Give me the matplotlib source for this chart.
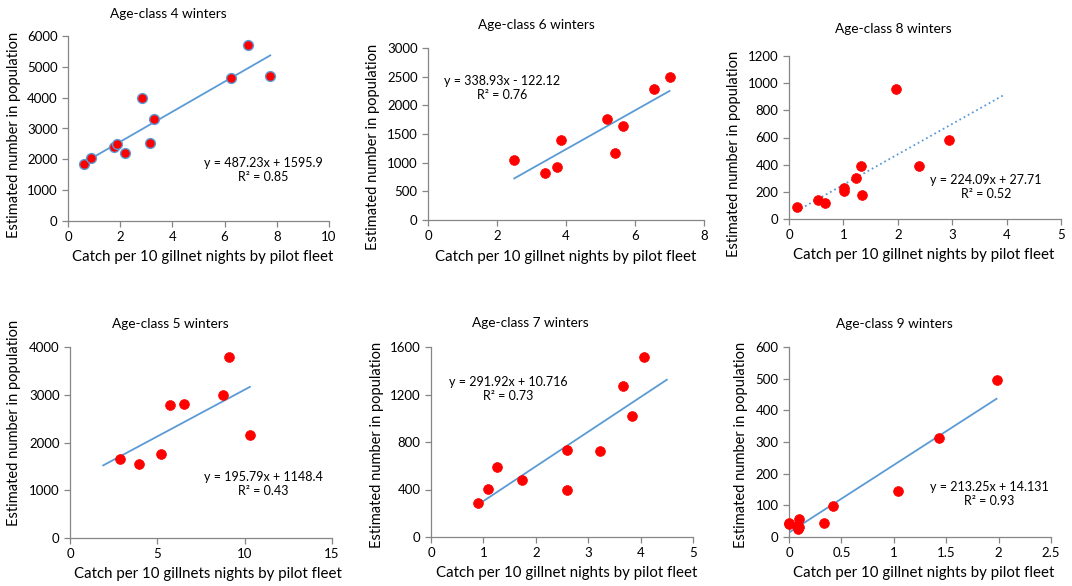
import numpy as np
import matplotlib
matplotlib.use("Agg")
import matplotlib.pyplot as plt

plt.rcParams['font.family'] = ['Lato', 'DejaVu Sans']

# --- data ---
x_age4 = [0.62, 0.9, 1.77, 1.87, 2.2, 2.85, 3.15, 3.3, 6.25, 6.9, 7.75]
y_age4 = [1850, 2050, 2390, 2510, 2200, 3980, 2530, 3310, 4640, 5700, 4700]

x_age6 = [2.5, 3.38, 3.75, 3.85, 5.2, 5.43, 5.64, 6.55, 7.0]
y_age6 = [1050, 820, 925, 1400, 1765, 1170, 1635, 2290, 2490]

x_age8 = [0.14, 0.53, 0.66, 1.01, 1.01, 1.24, 1.32, 1.34, 1.97, 2.39, 2.94]
y_age8 = [90, 138, 118, 225, 205, 300, 388, 180, 960, 393, 585]

x_age5 = [2.88, 3.95, 5.22, 5.74, 6.54, 8.77, 9.1, 10.3]
y_age5 = [1650, 1540, 1765, 2780, 2805, 2990, 3790, 2150]

x_age7 = [0.89, 1.08, 1.25, 1.73, 2.59, 2.6, 3.23, 3.66, 3.83, 4.07]
y_age7 = [283, 403, 588, 479, 730, 392, 728, 1275, 1017, 1515]

x_age9 = [0.0, 0.0, 0.08, 0.09, 0.1, 0.1, 0.33, 0.42, 1.04, 1.43, 1.98]
y_age9 = [45, 41, 35, 25, 57, 32, 43, 98, 144, 312, 495]

# trendline coefficients (slope, intercept) and drawn x range
fit_age4 = (487.23, 1595.9, 0.62, 7.75)
fit_age6 = (338.93, -122.12, 2.5, 7.0)
fit_age8 = (224.09, 27.71, 0.14, 3.95)
fit_age5 = (195.79, 1148.4, 1.9, 10.3)
fit_age7 = (291.92, 10.716, 0.89, 4.5)
fit_age9 = (213.25, 14.131, 0.0, 1.98)

eq_labels = ["y = 487.23x + 1595.9\nR\u00b2 = 0.85",
             "y = 338.93x - 122.12\nR\u00b2 = 0.76",
             "y = 224.09x + 27.71\nR\u00b2 = 0.52",
             "y = 195.79x + 1148.4\nR\u00b2 = 0.43",
             "y = 291.92x + 10.716\nR\u00b2 = 0.73",
             "y = 213.25x + 14.131\nR\u00b2 = 0.93"]

titles = ["Age-class 4 winters", "Age-class 6 winters", "Age-class 8 winters",
          "Age-class 5 winters", "Age-class 7 winters", "Age-class 9 winters"]

xlabels = ["Catch per 10 gillnet nights by pilot fleet"] * 3 + \
          ["Catch per 10 gillnets nights by pilot fleet",
           "Catch per 10 gillnet nights by pilot fleet",
           "Catch per 10 gillnet nights by pilot fleet"]
ylabel = "Estimated number in population"

W, H = 1072, 586
fig = plt.figure(figsize=(W / 100, H / 100), dpi=100)
fig.patch.set_facecolor("white")

# panel boxes in pixels: left, right, top, bottom
boxes = [(68, 329, 36, 221), (428, 704, 48, 220), (789, 1061, 56, 219),
         (70, 332, 347, 538), (431, 693, 347, 537), (789, 1051, 347, 537)]
xlims = [(0, 10, 2), (0, 8, 2), (0, 5, 1), (0, 15, 5), (0, 5, 1), (0, 2.5, 0.5)]
ylims = [(0, 6000, 1000), (0, 3000, 500), (0, 1200, 200),
         (0, 4000, 1000), (0, 1600, 400), (0, 600, 100)]
# text centres (pixels)
eq_pos = [(263, 170), (502, 88), (986, 187), (263, 484), (508, 389), (989, 494)]
title_pos = [(168, 14), (536, 25), (893, 29), (170, 324), (530, 323), (894, 324)]
xlab_pos = [(203, 257), (566, 257), (924, 255), (208, 574), (567, 573), (924, 573)]
ylab_pos = [(14, 135), (373, 147), (734, 154), (14, 423), (377, 445), (741, 445)]

data = [(x_age4, y_age4, fit_age4), (x_age6, y_age6, fit_age6),
        (x_age8, y_age8, fit_age8), (x_age5, y_age5, fit_age5),
        (x_age7, y_age7, fit_age7), (x_age9, y_age9, fit_age9)]

grey = "#868686"
blue = "#5b9bd5"

for i, (xs, ys, fit) in enumerate(data):
    l, r, t, b = boxes[i]
    ax = fig.add_axes([l / W, 1 - b / H, (r - l) / W, (b - t) / H])
    for s in ["top", "right"]:
        ax.spines[s].set_visible(False)
    for s in ["left", "bottom"]:
        ax.spines[s].set_color(grey)
        ax.spines[s].set_linewidth(0.9)
    ax.tick_params(colors=grey, labelcolor="black", labelsize=9.5,
                   length=4, width=0.9)
    x0, x1, xs_step = xlims[i]
    y0, y1, ys_step = ylims[i]
    ax.set_xlim(x0, x1)
    ax.set_ylim(y0, y1)
    ax.set_xticks(np.arange(x0, x1 + xs_step / 2, xs_step))
    ax.set_yticks(np.arange(y0, y1 + ys_step / 2, ys_step))
    ax.xaxis.set_major_formatter(plt.FuncFormatter(lambda v, p: ("%g" % v)))

    slope, icpt, fx0, fx1 = fit
    fx = np.array([fx0, fx1])
    ls = ":" if i == 2 else "-"
    ax.plot(fx, slope * fx + icpt, color=blue, lw=1.3, ls=ls, zorder=2)
    edge = blue if i == 0 else "red"
    ax.scatter(xs, ys, s=50, color="red", edgecolors=edge,
               linewidths=1.0 if i == 0 else 0.5, zorder=3, clip_on=False)

    ex, ey = eq_pos[i]
    fig.text(ex / W, 1 - ey / H, eq_labels[i], ha="center", va="center",
             fontsize=9, linespacing=1.25)
    tx, ty = title_pos[i]
    fig.text(tx / W, 1 - ty / H, titles[i], ha="center", va="center",
             fontsize=9.8)
    lx, ly = xlab_pos[i]
    fig.text(lx / W, 1 - ly / H, xlabels[i], ha="center", va="center",
             fontsize=10.8)
    yx, yy = ylab_pos[i]
    fig.text(yx / W, 1 - yy / H, ylabel, ha="center", va="center",
             rotation=90, fontsize=10.5)

fig.savefig("out.png", dpi=100)
